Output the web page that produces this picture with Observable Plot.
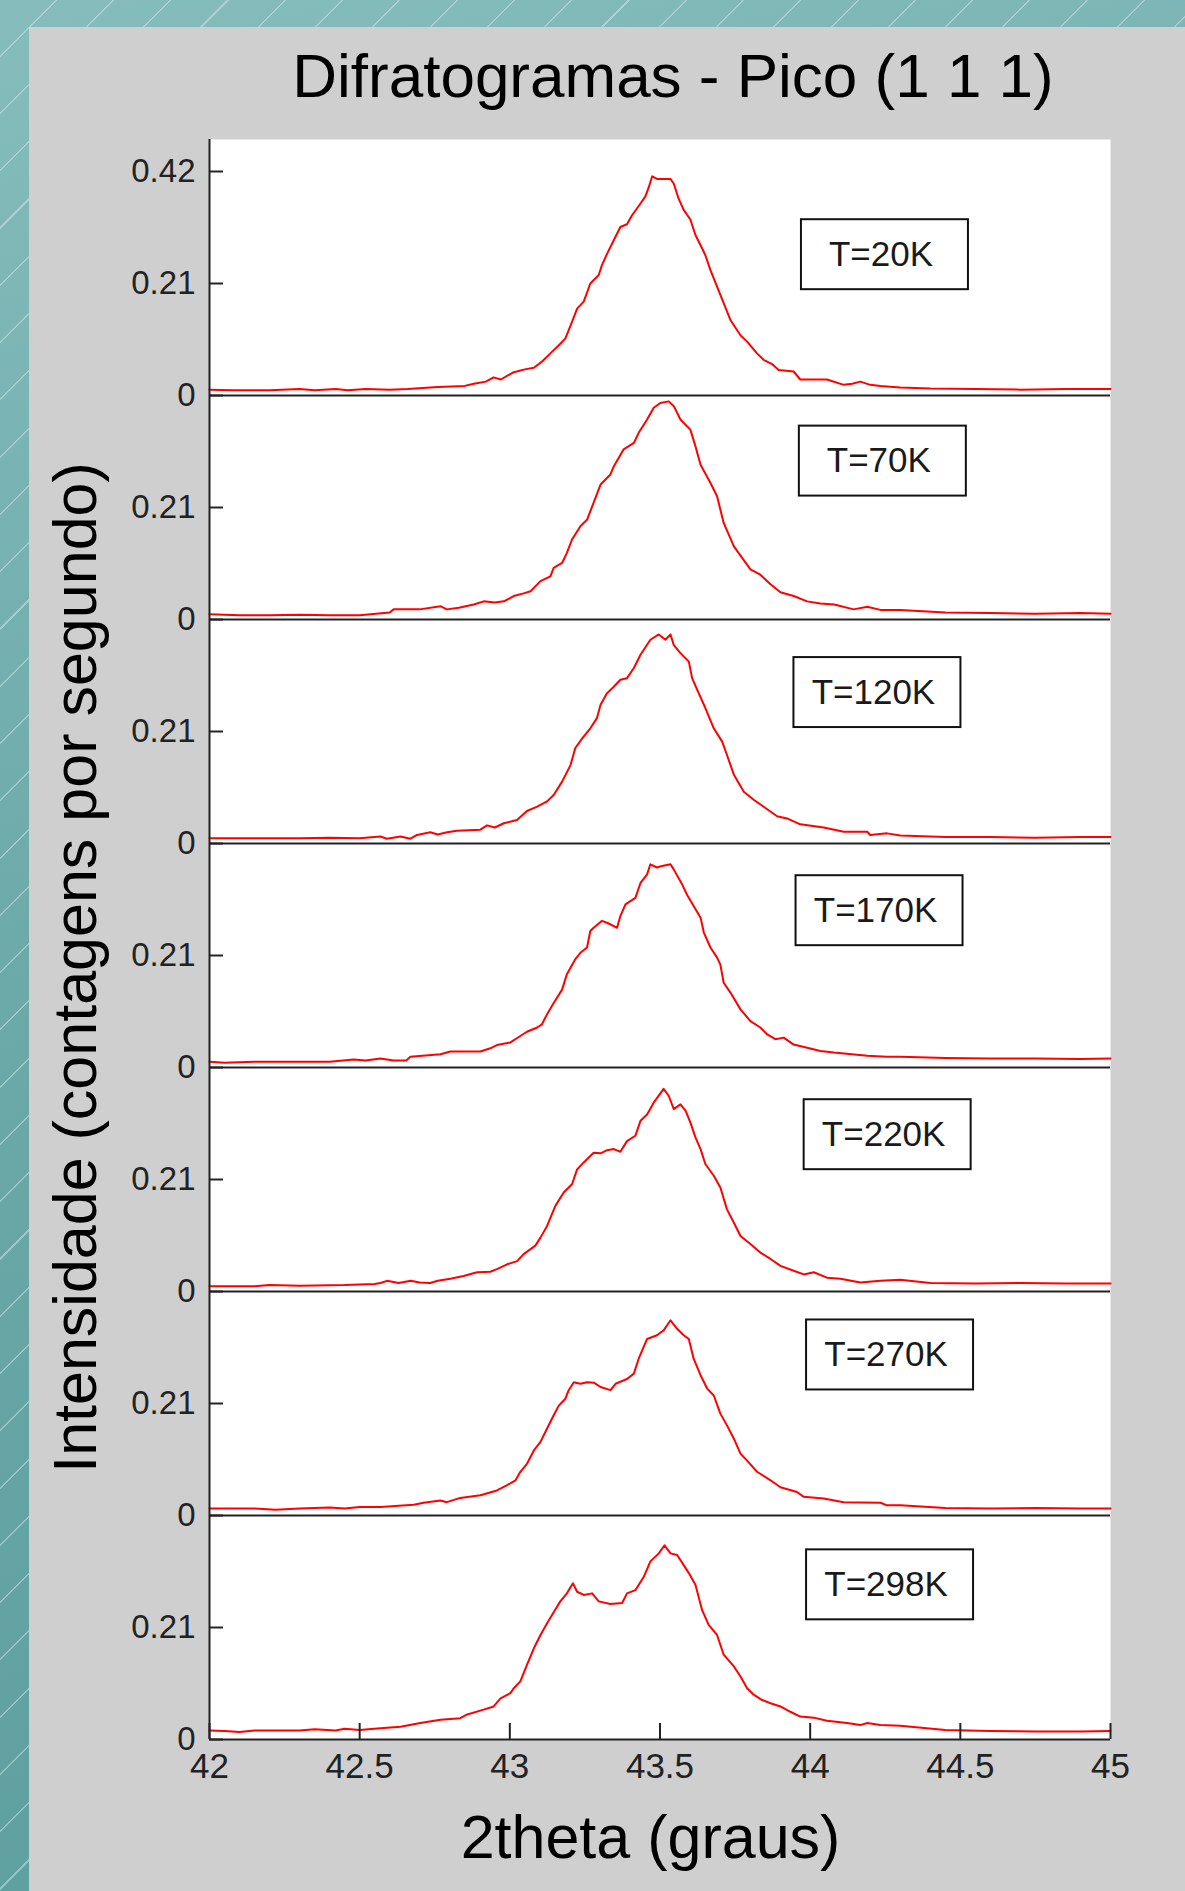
<!DOCTYPE html>
<html><head><meta charset="utf-8">
<script src="https://cdn.jsdelivr.net/npm/d3@7"></script>
<script src="https://cdn.jsdelivr.net/npm/@observablehq/plot@0.6"></script>
<style>
html,body{margin:0;padding:0;}
body{width:1185px;height:1891px;overflow:hidden;position:relative;
 background:
  repeating-linear-gradient(135deg, rgba(255,255,255,0) 0px, rgba(255,255,255,0) 39px, rgba(215,238,238,0.45) 39px, rgba(215,238,238,0.45) 40.5px),
  linear-gradient(165deg, #86bcbc 0%, #6ca9a9 45%, #5b9d9d 100%);
 font-family:"Liberation Sans", Arial, sans-serif;}
#panel{position:absolute;left:29px;top:27px;right:0;bottom:0;background:#cfcfcf;}
#title{position:absolute;left:173px;width:1000px;top:45px;text-align:center;font-size:62px;line-height:62px;color:#000;white-space:nowrap;}
#chart{position:absolute;left:0;top:110px;}
</style></head>
<body>
<div id="panel"></div>
<div id="title">Difratogramas - Pico (1 1 1)</div>
<div id="chart"></div>
<script>
const temps = ["T=20K","T=70K","T=120K","T=170K","T=220K","T=270K","T=298K"];

const t20 = [[42.00,0.011],[42.08,0.010],[42.20,0.010],[42.30,0.012],[42.35,0.010],[42.42,0.012],[42.46,0.010],[42.52,0.012],[42.60,0.011],[42.66,0.012],[42.76,0.016],[42.85,0.018],[42.88,0.022],[42.92,0.026],[42.946,0.034],[42.97,0.030],[43.01,0.043],[43.05,0.049],[43.08,0.052],[43.11,0.065],[43.135,0.079],[43.168,0.097],[43.185,0.107],[43.207,0.138],[43.224,0.163],[43.246,0.176],[43.268,0.210],[43.296,0.226],[43.307,0.245],[43.324,0.266],[43.346,0.291],[43.368,0.316],[43.39,0.321],[43.407,0.338],[43.435,0.360],[43.451,0.373],[43.463,0.391],[43.474,0.411],[43.49,0.406],[43.535,0.406],[43.546,0.397],[43.562,0.369],[43.579,0.348],[43.601,0.330],[43.618,0.301],[43.640,0.276],[43.651,0.263],[43.668,0.235],[43.690,0.204],[43.712,0.173],[43.735,0.141],[43.768,0.113],[43.790,0.101],[43.823,0.079],[43.845,0.067],[43.873,0.059],[43.895,0.048],[43.945,0.045],[43.967,0.030],[44.056,0.030],[44.112,0.020],[44.14,0.022],[44.167,0.026],[44.20,0.020],[44.234,0.018],[44.30,0.015],[44.40,0.013],[44.55,0.012],[44.70,0.011],[44.85,0.012],[45.00,0.012]];

const t70 = [[42.00,0.010],[42.10,0.008],[42.20,0.008],[42.30,0.009],[42.40,0.008],[42.50,0.008],[42.60,0.013],[42.613,0.019],[42.70,0.019],[42.769,0.025],[42.79,0.019],[42.83,0.022],[42.88,0.028],[42.913,0.034],[42.95,0.032],[42.98,0.034],[43.013,0.044],[43.046,0.049],[43.069,0.053],[43.102,0.072],[43.135,0.081],[43.146,0.097],[43.174,0.106],[43.19,0.125],[43.207,0.150],[43.235,0.175],[43.257,0.187],[43.279,0.219],[43.302,0.253],[43.335,0.272],[43.346,0.287],[43.379,0.319],[43.413,0.331],[43.429,0.350],[43.457,0.375],[43.479,0.397],[43.501,0.406],[43.529,0.409],[43.546,0.400],[43.568,0.375],[43.601,0.356],[43.618,0.325],[43.635,0.290],[43.668,0.256],[43.690,0.231],[43.712,0.181],[43.746,0.137],[43.773,0.116],[43.801,0.094],[43.834,0.084],[43.868,0.066],[43.901,0.051],[43.945,0.044],[43.990,0.034],[44.034,0.030],[44.08,0.028],[44.145,0.019],[44.19,0.024],[44.234,0.018],[44.30,0.018],[44.45,0.013],[44.60,0.012],[44.75,0.011],[44.90,0.012],[45.00,0.011]];

const t120 = [[42.00,0.010],[42.15,0.010],[42.30,0.010],[42.40,0.011],[42.50,0.010],[42.569,0.013],[42.591,0.009],[42.636,0.013],[42.669,0.009],[42.691,0.016],[42.735,0.021],[42.76,0.017],[42.791,0.021],[42.824,0.024],[42.902,0.026],[42.924,0.034],[42.95,0.030],[42.98,0.038],[43.024,0.044],[43.057,0.061],[43.091,0.069],[43.124,0.079],[43.146,0.091],[43.174,0.116],[43.202,0.147],[43.218,0.179],[43.241,0.197],[43.268,0.216],[43.290,0.235],[43.302,0.260],[43.324,0.282],[43.346,0.294],[43.368,0.307],[43.390,0.310],[43.413,0.329],[43.435,0.354],[43.468,0.382],[43.496,0.392],[43.518,0.382],[43.535,0.392],[43.546,0.372],[43.568,0.357],[43.596,0.341],[43.607,0.310],[43.624,0.288],[43.651,0.254],[43.679,0.216],[43.707,0.191],[43.723,0.166],[43.746,0.129],[43.779,0.097],[43.812,0.082],[43.845,0.069],[43.890,0.051],[43.923,0.047],[43.967,0.036],[44.045,0.030],[44.112,0.022],[44.19,0.022],[44.20,0.016],[44.256,0.019],[44.30,0.015],[44.45,0.012],[44.60,0.012],[44.75,0.011],[44.90,0.012],[45.00,0.012]];

const t170 = [[42.00,0.011],[42.05,0.009],[42.15,0.011],[42.30,0.011],[42.40,0.011],[42.48,0.015],[42.52,0.013],[42.569,0.017],[42.613,0.013],[42.655,0.013],[42.669,0.020],[42.769,0.025],[42.802,0.030],[42.902,0.030],[42.935,0.036],[42.957,0.042],[43.002,0.047],[43.035,0.059],[43.057,0.067],[43.091,0.075],[43.107,0.081],[43.124,0.100],[43.146,0.121],[43.174,0.146],[43.190,0.175],[43.218,0.203],[43.235,0.215],[43.257,0.225],[43.268,0.256],[43.279,0.262],[43.307,0.275],[43.329,0.270],[43.357,0.262],[43.368,0.284],[43.385,0.306],[43.418,0.318],[43.435,0.346],[43.457,0.362],[43.468,0.381],[43.490,0.375],[43.507,0.378],[43.535,0.381],[43.546,0.371],[43.574,0.343],[43.590,0.324],[43.612,0.303],[43.635,0.281],[43.646,0.253],[43.668,0.225],[43.690,0.206],[43.701,0.193],[43.712,0.159],[43.735,0.140],[43.768,0.109],[43.801,0.087],[43.834,0.075],[43.857,0.062],[43.884,0.053],[43.912,0.056],[43.945,0.043],[43.990,0.037],[44.034,0.031],[44.079,0.028],[44.19,0.022],[44.256,0.020],[44.30,0.020],[44.45,0.018],[44.60,0.017],[44.75,0.017],[44.90,0.016],[45.00,0.017]];

const t220 = [[42.00,0.010],[42.15,0.010],[42.20,0.012],[42.30,0.011],[42.45,0.012],[42.55,0.014],[42.569,0.016],[42.591,0.020],[42.63,0.016],[42.67,0.020],[42.70,0.017],[42.735,0.016],[42.76,0.020],[42.802,0.024],[42.846,0.029],[42.891,0.036],[42.935,0.037],[42.957,0.042],[42.991,0.051],[43.024,0.057],[43.046,0.070],[43.085,0.086],[43.102,0.101],[43.124,0.123],[43.152,0.161],[43.180,0.186],[43.207,0.201],[43.224,0.229],[43.246,0.242],[43.279,0.260],[43.302,0.259],[43.324,0.265],[43.346,0.267],[43.368,0.262],[43.390,0.282],[43.418,0.292],[43.435,0.320],[43.457,0.332],[43.479,0.354],[43.512,0.380],[43.529,0.367],[43.546,0.342],[43.568,0.351],[43.585,0.339],[43.601,0.317],[43.618,0.289],[43.635,0.267],[43.651,0.239],[43.679,0.217],[43.701,0.195],[43.723,0.154],[43.746,0.129],[43.768,0.104],[43.801,0.089],[43.834,0.073],[43.868,0.061],[43.901,0.048],[43.945,0.039],[43.979,0.032],[44.012,0.036],[44.056,0.026],[44.101,0.024],[44.167,0.017],[44.234,0.020],[44.30,0.022],[44.40,0.016],[44.55,0.015],[44.70,0.016],[44.85,0.015],[45.00,0.015]];

const t270 = [[42.00,0.013],[42.15,0.013],[42.22,0.011],[42.30,0.013],[42.40,0.015],[42.45,0.013],[42.50,0.016],[42.569,0.016],[42.680,0.020],[42.713,0.024],[42.769,0.028],[42.79,0.025],[42.835,0.033],[42.902,0.038],[42.957,0.047],[42.991,0.057],[43.019,0.066],[43.035,0.082],[43.057,0.097],[43.080,0.122],[43.102,0.138],[43.124,0.163],[43.146,0.188],[43.163,0.206],[43.185,0.219],[43.196,0.235],[43.213,0.250],[43.235,0.247],[43.257,0.250],[43.280,0.249],[43.302,0.241],[43.335,0.235],[43.352,0.247],[43.390,0.256],[43.413,0.266],[43.429,0.294],[43.457,0.331],[43.490,0.338],[43.512,0.347],[43.535,0.366],[43.557,0.350],[43.579,0.338],[43.596,0.331],[43.612,0.294],[43.635,0.263],[43.657,0.238],[43.679,0.225],[43.701,0.191],[43.723,0.169],[43.746,0.144],[43.768,0.116],[43.790,0.103],[43.823,0.082],[43.868,0.066],[43.901,0.053],[43.956,0.044],[43.979,0.035],[44.045,0.032],[44.112,0.025],[44.234,0.024],[44.256,0.019],[44.30,0.019],[44.45,0.014],[44.60,0.013],[44.75,0.014],[44.90,0.013],[45.00,0.013]];

const t298 = [[42.00,0.017],[42.05,0.016],[42.10,0.014],[42.15,0.017],[42.30,0.017],[42.35,0.019],[42.42,0.017],[42.45,0.020],[42.50,0.018],[42.569,0.021],[42.636,0.024],[42.702,0.031],[42.769,0.037],[42.835,0.040],[42.858,0.047],[42.913,0.056],[42.946,0.062],[42.969,0.077],[43.002,0.087],[43.013,0.096],[43.035,0.109],[43.057,0.140],[43.080,0.171],[43.102,0.196],[43.124,0.218],[43.141,0.234],[43.168,0.259],[43.190,0.274],[43.210,0.293],[43.224,0.277],[43.246,0.271],[43.274,0.274],[43.296,0.259],[43.335,0.254],[43.374,0.256],[43.390,0.274],[43.418,0.280],[43.446,0.305],[43.468,0.334],[43.496,0.349],[43.515,0.364],[43.535,0.349],[43.557,0.346],[43.579,0.327],[43.596,0.312],[43.618,0.290],[43.640,0.243],[43.662,0.215],[43.690,0.196],[43.712,0.159],[43.746,0.137],[43.768,0.118],[43.790,0.096],[43.812,0.084],[43.840,0.074],[43.868,0.068],[43.901,0.062],[43.934,0.052],[43.967,0.043],[44.012,0.041],[44.056,0.035],[44.123,0.031],[44.167,0.027],[44.19,0.031],[44.234,0.027],[44.30,0.026],[44.45,0.018],[44.60,0.016],[44.75,0.015],[44.90,0.015],[45.00,0.016]];

const series = [t20, t70, t120, t170, t220, t270, t298];
const panelStep = 0.42;                 // vertical offset between stacked diffractograms
const yTickText = ["0", "0.21", "0.42"];
const xTicks = [42, 42.5, 43, 43.5, 44, 44.5, 45];
// legend box centres (2theta, intensity within each panel)
const labelX = [44.249, 44.242, 44.224, 44.231, 44.258, 44.266, 44.266];
const labelY = [0.264, 0.297, 0.283, 0.294, 0.294, 0.301, 0.290];

const n = temps.length;
const offsets = temps.map((_, i) => (n - 1 - i) * panelStep);
const rows = series.flatMap((s, i) => s.map(([x, v]) => ({temp: temps[i], x, y: v + offsets[i]})));
const labels = temps.map((t, i) => ({text: t, x: labelX[i], y: labelY[i] + offsets[i]}));

const yTicks = [];
const yLab = new Map();
offsets.forEach(o => {
  yTicks.push(o); yLab.set(o.toFixed(3), yTickText[0]);
  yTicks.push(o + panelStep / 2); yLab.set((o + panelStep / 2).toFixed(3), yTickText[1]);
});
const topTick = offsets[0] + panelStep;
yTicks.push(topTick); yLab.set(topTick.toFixed(3), yTickText[2]);

const bw = 0.278, bh = 0.0656;
const font = "'Liberation Sans', Arial, Helvetica, sans-serif";

const chart = Plot.plot({
  width: 1185, height: 1781,
  marginLeft: 209, marginRight: 75, marginTop: 29, marginBottom: 152,
  x: {domain: [42, 45], label: null},
  y: {domain: [0, 3], label: null},
  style: {background: "transparent", fontFamily: font, color: "#1a1a1a", overflow: "visible"},
  marks: [
    Plot.frame({fill: "white", stroke: "none"}),
    Plot.ruleY(offsets, {stroke: "#222", strokeWidth: 2}),
    Plot.line(rows, {x: "x", y: "y", z: "temp", stroke: "#ff0000", strokeWidth: 2}),
    Plot.ruleX([42], {stroke: "#222", strokeWidth: 2}),
    Plot.rect(labels, {x1: d => d.x - bw, x2: d => d.x + bw, y1: d => d.y - bh, y2: d => d.y + bh, fill: "white", stroke: "#111", strokeWidth: 2}),
    Plot.text(labels, {x: "x", y: "y", text: "text", fontSize: 35, fill: "#1a1a1a", dx: -4}),
    Plot.axisY({ticks: yTicks, tickSize: 14, dx: 14, fill: "none", stroke: "#222", strokeWidth: 2, label: null}),
    Plot.axisY({ticks: yTicks, tickSize: 0, tickPadding: 14, tickFormat: d => yLab.get(d.toFixed(3)), fontSize: 33, fill: "#222", label: null}),
    Plot.axisX({ticks: xTicks, tickSize: 16, dy: -16, fill: "none", stroke: "#222", strokeWidth: 2, label: null}),
    Plot.axisX({ticks: xTicks, tickSize: 0, tickPadding: 14, tickFormat: d => String(d), fontSize: 35, fill: "#222", label: null}),
    Plot.text(["2theta (graus)"], {frameAnchor: "bottom", textAnchor: "middle", text: d => d, dx: -9.5, dy: 118, lineAnchor: "bottom", fontSize: 61, fill: "#000"}),
    Plot.text(["Intensidade (contagens por segundo)"], {frameAnchor: "left", textAnchor: "middle", text: d => d, rotate: -90, dx: -114, dy: 28, lineAnchor: "bottom", fontSize: 61, fill: "#000"})
  ]
});
document.getElementById("chart").appendChild(chart);
</script>
</body></html>
